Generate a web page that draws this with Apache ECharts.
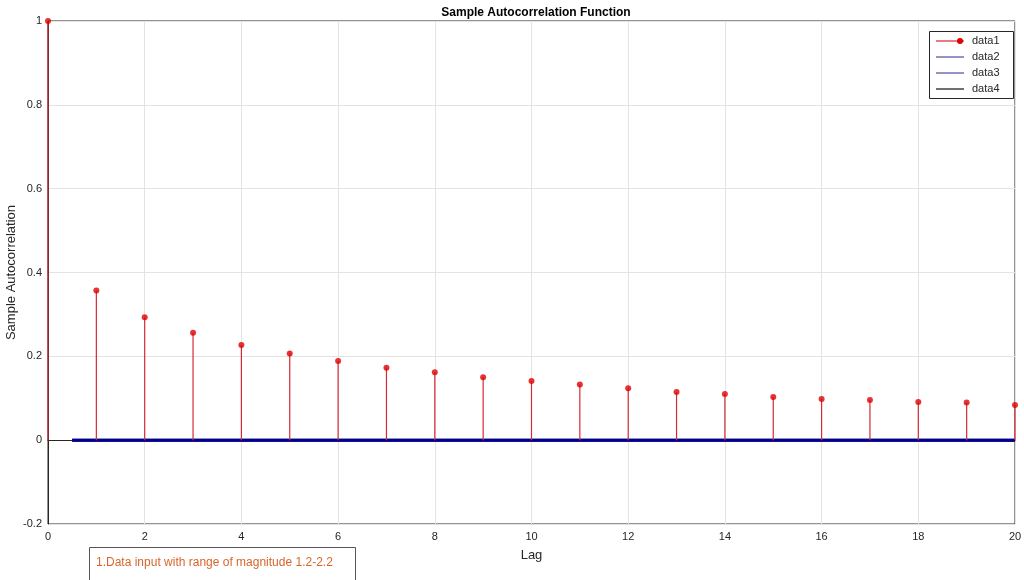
<!DOCTYPE html>
<html>
<head>
<meta charset="utf-8">
<script src="https://cdn.jsdelivr.net/npm/echarts@6/dist/echarts.min.js"></script>
<style>html,body{margin:0;padding:0;background:#fff}#c{width:1024px;height:580px}</style>
</head>
<body>
<div id="c"></div>
<script>
var lags = [0,1,2,3,4,5,6,7,8,9,10,11,12,13,14,15,16,17,18,19,20];
var acf = [1,0.357,0.293,0.256,0.227,0.207,0.189,0.173,0.162,0.150,0.141,0.133,0.124,0.115,0.110,0.103,0.098,0.096,0.091,0.090,0.084];
var boundX = [0.5,20];
var upperBound = [0,0];
var lowerBound = [0,0];
var xTicks = [0,2,4,6,8,10,12,14,16,18,20];
var yTicks = [-0.2,0,0.2,0.4,0.6,0.8,1];
var seriesNames = ['data1','data2','data3','data4'];
var noteText = '1.Data input with range of magnitude 1.2-2.2';

var chart = echarts.init(document.getElementById('c'));
var font = 'Liberation Sans, Arial, sans-serif';
var stemData = lags.map(function(l,i){return [l,acf[i]];});

var legendItems = [];
var ly = [41,57,73,89];
var lcol = ['#e0303a','#5a5aa8','#5a5aa8','#222222'];
legendItems.push({type:'rect',shape:{x:929.5,y:31.5,width:84,height:67},style:{fill:'#fff',stroke:'#262626',lineWidth:1},z:100});
for (var i=0;i<4;i++){
  legendItems.push({type:'line',shape:{x1:936,y1:ly[i],x2:964,y2:ly[i]},style:{stroke:lcol[i],lineWidth:1.3},z:101});
  legendItems.push({type:'text',x:972,y:ly[i],style:{text:seriesNames[i],fill:'#262626',font:'11px '+font,textVerticalAlign:'middle'},z:101});
}
legendItems.push({type:'circle',shape:{cx:960,cy:41,r:3},style:{fill:'#e00000'},z:102});
legendItems.push({type:'rect',shape:{x:89.5,y:547.5,width:266,height:40},style:{fill:'#fff',stroke:'#555',lineWidth:1},z:100});
legendItems.push({type:'text',x:96,y:563,style:{text:noteText,fill:'#d9652b',font:'12px '+font,textVerticalAlign:'middle'},z:101});

chart.setOption({
  animation:false,
  backgroundColor:'#fff',
  title:{text:'Sample Autocorrelation Function',left:531,textAlign:'center',top:2,textStyle:{fontSize:12,fontWeight:'bold',color:'#000',fontFamily:font}},
  grid:{left:48,right:9,top:21,bottom:56,containLabel:false,outerBoundsMode:'none',show:true,borderColor:'#262626',borderWidth:1,backgroundColor:'#fff'},
  xAxis:{type:'value',min:0,max:20,interval:2,name:'Lag',nameLocation:'middle',nameGap:25,nameMoveOverlap:false,
    nameTextStyle:{fontSize:13,color:'#262626',fontFamily:font},
    axisLine:{show:true,lineStyle:{color:'#262626'}},axisTick:{show:false},
    axisLabel:{fontSize:11,color:'#262626',fontFamily:font,margin:7},
    splitLine:{show:true,lineStyle:{color:'#e3e3e3'}}},
  yAxis:{type:'value',min:-0.2,max:1,interval:0.2,name:'Sample Autocorrelation',nameLocation:'middle',nameGap:30,nameMoveOverlap:false,
    nameTextStyle:{fontSize:13,color:'#262626',fontFamily:font},
    axisLine:{show:true,lineStyle:{color:'#262626'}},axisTick:{show:false},
    axisLabel:{fontSize:11,color:'#262626',fontFamily:font,margin:6,formatter:function(v){return String(Math.round(v*10)/10);}},
    splitLine:{show:true,lineStyle:{color:'#e3e3e3'}}},
  graphic:legendItems,
  series:[
    {name:'data2',type:'line',data:boundX.map(function(x,i){return [x,upperBound[i]];}),symbol:'none',lineStyle:{color:'#00008b',width:3},z:3},
    {name:'data3',type:'line',data:boundX.map(function(x,i){return [x,lowerBound[i]];}),symbol:'none',lineStyle:{color:'#00008b',width:3},z:3},
    {name:'data1',type:'custom',data:stemData,z:4,clip:false,
      renderItem:function(params,api){
        var x=api.value(0),y=api.value(1);
        var p0=api.coord([x,0]),p1=api.coord([x,y]);
        return {type:'line',shape:{x1:p0[0],y1:p0[1],x2:p1[0],y2:p1[1]},style:{stroke:'#d42a35',lineWidth:1.2}};
      }},
    {name:'data1pts',type:'scatter',data:stemData,symbol:'circle',symbolSize:6,itemStyle:{color:'#e00000'},z:5,clip:false}
  ]
});
</script>
</body>
</html>
